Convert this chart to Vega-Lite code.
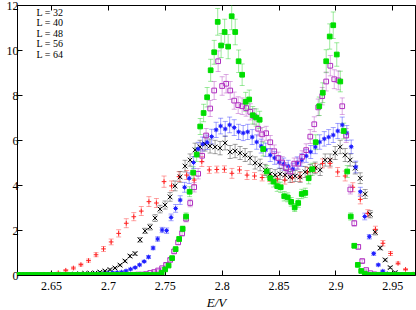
{
"$schema":"https://vega.github.io/schema/vega-lite/v6.json",
"width":398,"height":270,
"autosize":{"type":"none"},
"padding":{"left":17,"top":5,"right":1,"bottom":35},
"background":"white",
"config":{
 "view":{"stroke":"#000000","strokeWidth":1},
 "font":"Liberation Serif",
 "axis":{"grid":false,"domain":false,"tickColor":"#000000","tickWidth":1,"tickSize":-5,"labelFont":"Liberation Serif","labelFontSize":12,"labelColor":"#000000","titleFont":"Liberation Serif","titleFontSize":13,"titleFontStyle":"italic","titleFontWeight":"normal","titleColor":"#000000"}
},
"data":{"values":[
{"s":"32","E":2.6231,"v":0.02,"e":0.02},{"s":"32","E":2.6297,"v":0.02,"e":0.02},{"s":"32","E":2.6364,"v":0.03,"e":0.02},{"s":"32","E":2.6430,"v":0.03,"e":0.02},{"s":"32","E":2.6497,"v":0.04,"e":0.02},{"s":"32","E":2.6563,"v":0.10,"e":0.03},{"s":"32","E":2.6629,"v":0.21,"e":0.04},{"s":"32","E":2.6696,"v":0.31,"e":0.05},{"s":"32","E":2.6762,"v":0.46,"e":0.06},{"s":"32","E":2.6829,"v":0.64,"e":0.07},{"s":"32","E":2.6895,"v":0.90,"e":0.09},{"s":"32","E":2.6961,"v":1.16,"e":0.11},{"s":"32","E":2.7028,"v":1.47,"e":0.13},{"s":"32","E":2.7094,"v":1.85,"e":0.16},{"s":"32","E":2.7161,"v":2.30,"e":0.2},{"s":"32","E":2.7227,"v":2.59,"e":0.18},{"s":"32","E":2.7293,"v":2.84,"e":0.2},{"s":"32","E":2.7360,"v":3.26,"e":0.22},{"s":"32","E":2.7426,"v":3.20,"e":0.2},{"s":"32","E":2.7493,"v":4.15,"e":0.25},{"s":"32","E":2.7559,"v":3.96,"e":0.22},{"s":"32","E":2.7625,"v":4.37,"e":0.22},{"s":"32","E":2.7692,"v":4.44,"e":0.2},{"s":"32","E":2.7758,"v":4.22,"e":0.2},{"s":"32","E":2.7825,"v":5.04,"e":0.22},{"s":"32","E":2.7891,"v":4.67,"e":0.15},{"s":"32","E":2.7957,"v":4.69,"e":0.15},{"s":"32","E":2.8024,"v":4.70,"e":0.15},{"s":"32","E":2.8090,"v":4.52,"e":0.22},{"s":"32","E":2.8157,"v":4.67,"e":0.15},{"s":"32","E":2.8223,"v":4.44,"e":0.2},{"s":"32","E":2.8289,"v":4.40,"e":0.15},{"s":"32","E":2.8356,"v":4.33,"e":0.15},{"s":"32","E":2.8422,"v":4.31,"e":0.15},{"s":"32","E":2.8489,"v":4.27,"e":0.15},{"s":"32","E":2.8555,"v":4.22,"e":0.18},{"s":"32","E":2.8621,"v":4.31,"e":0.2},{"s":"32","E":2.8688,"v":4.36,"e":0.2},{"s":"32","E":2.8754,"v":4.58,"e":0.2},{"s":"32","E":2.8821,"v":4.76,"e":0.2},{"s":"32","E":2.8887,"v":4.96,"e":0.2},{"s":"32","E":2.8953,"v":4.96,"e":0.2},{"s":"32","E":2.9020,"v":4.58,"e":0.2},{"s":"32","E":2.9086,"v":4.40,"e":0.22},{"s":"32","E":2.9153,"v":3.90,"e":0.2},{"s":"32","E":2.9219,"v":3.36,"e":0.2},{"s":"32","E":2.9285,"v":2.74,"e":0.16},{"s":"32","E":2.9352,"v":2.03,"e":0.14},{"s":"32","E":2.9418,"v":1.41,"e":0.12},{"s":"32","E":2.9485,"v":0.96,"e":0.09},{"s":"32","E":2.9551,"v":0.52,"e":0.06},{"s":"32","E":2.9617,"v":0.25,"e":0.04},{"s":"32","E":2.9684,"v":0.04,"e":0.02},
{"s":"40","E":2.6226,"v":0,"e":0.02},{"s":"40","E":2.6270,"v":0,"e":0.02},{"s":"40","E":2.6314,"v":0,"e":0.02},{"s":"40","E":2.6358,"v":0,"e":0.02},{"s":"40","E":2.6402,"v":0,"e":0.02},{"s":"40","E":2.6446,"v":0,"e":0.02},{"s":"40","E":2.6490,"v":0,"e":0.02},{"s":"40","E":2.6534,"v":0.01,"e":0.02},{"s":"40","E":2.6578,"v":0.01,"e":0.02},{"s":"40","E":2.6622,"v":0.02,"e":0.02},{"s":"40","E":2.6666,"v":0.03,"e":0.02},{"s":"40","E":2.6710,"v":0.04,"e":0.02},{"s":"40","E":2.6754,"v":0.05,"e":0.02},{"s":"40","E":2.6798,"v":0.07,"e":0.02},{"s":"40","E":2.6842,"v":0.08,"e":0.02},{"s":"40","E":2.6886,"v":0.09,"e":0.02},{"s":"40","E":2.6930,"v":0.13,"e":0.03},{"s":"40","E":2.6974,"v":0.18,"e":0.03},{"s":"40","E":2.7018,"v":0.24,"e":0.03},{"s":"40","E":2.7062,"v":0.31,"e":0.04},{"s":"40","E":2.7106,"v":0.44,"e":0.04},{"s":"40","E":2.7150,"v":0.62,"e":0.05},{"s":"40","E":2.7194,"v":0.84,"e":0.06},{"s":"40","E":2.7238,"v":0.95,"e":0.07},{"s":"40","E":2.7282,"v":1.56,"e":0.1},{"s":"40","E":2.7326,"v":1.96,"e":0.12},{"s":"40","E":2.7370,"v":2.13,"e":0.13},{"s":"40","E":2.7414,"v":2.53,"e":0.15},{"s":"40","E":2.7458,"v":2.93,"e":0.17},{"s":"40","E":2.7502,"v":3.11,"e":0.18},{"s":"40","E":2.7546,"v":3.47,"e":0.19},{"s":"40","E":2.7590,"v":3.96,"e":0.22},{"s":"40","E":2.7634,"v":4.36,"e":0.24},{"s":"40","E":2.7678,"v":4.84,"e":0.26},{"s":"40","E":2.7722,"v":5.11,"e":0.27},{"s":"40","E":2.7766,"v":5.56,"e":0.3},{"s":"40","E":2.7810,"v":5.69,"e":0.3},{"s":"40","E":2.7854,"v":5.82,"e":0.31},{"s":"40","E":2.7898,"v":5.73,"e":0.31},{"s":"40","E":2.7942,"v":5.69,"e":0.3},{"s":"40","E":2.7986,"v":5.64,"e":0.3},{"s":"40","E":2.8030,"v":5.87,"e":0.31},{"s":"40","E":2.8074,"v":5.47,"e":0.29},{"s":"40","E":2.8118,"v":5.51,"e":0.3},{"s":"40","E":2.8162,"v":5.42,"e":0.29},{"s":"40","E":2.8206,"v":5.33,"e":0.29},{"s":"40","E":2.8250,"v":5.20,"e":0.28},{"s":"40","E":2.8294,"v":4.98,"e":0.27},{"s":"40","E":2.8338,"v":4.89,"e":0.26},{"s":"40","E":2.8382,"v":4.67,"e":0.25},{"s":"40","E":2.8426,"v":4.49,"e":0.24},{"s":"40","E":2.8470,"v":4.44,"e":0.24},{"s":"40","E":2.8514,"v":4.49,"e":0.24},{"s":"40","E":2.8558,"v":4.44,"e":0.24},{"s":"40","E":2.8602,"v":4.36,"e":0.24},{"s":"40","E":2.8646,"v":4.40,"e":0.24},{"s":"40","E":2.8690,"v":4.36,"e":0.24},{"s":"40","E":2.8734,"v":4.58,"e":0.25},{"s":"40","E":2.8778,"v":4.67,"e":0.25},{"s":"40","E":2.8822,"v":4.76,"e":0.26},{"s":"40","E":2.8866,"v":4.67,"e":0.25},{"s":"40","E":2.8910,"v":5.11,"e":0.27},{"s":"40","E":2.8954,"v":5.11,"e":0.27},{"s":"40","E":2.8998,"v":5.42,"e":0.29},{"s":"40","E":2.9042,"v":5.69,"e":0.3},{"s":"40","E":2.9086,"v":5.33,"e":0.29},{"s":"40","E":2.9130,"v":5.11,"e":0.27},{"s":"40","E":2.9174,"v":4.75,"e":0.26},{"s":"40","E":2.9218,"v":4.30,"e":0.24},{"s":"40","E":2.9262,"v":3.60,"e":0.2},{"s":"40","E":2.9306,"v":2.70,"e":0.16},{"s":"40","E":2.9350,"v":1.90,"e":0.12},{"s":"40","E":2.9394,"v":1.20,"e":0.08},{"s":"40","E":2.9438,"v":0.67,"e":0.05},{"s":"40","E":2.9482,"v":0.33,"e":0.04},{"s":"40","E":2.9526,"v":0.11,"e":0.03},{"s":"40","E":2.9570,"v":0.03,"e":0.02},{"s":"40","E":2.9614,"v":0.01,"e":0.02},{"s":"40","E":2.9658,"v":0,"e":0.02},
{"s":"48","E":2.6209,"v":0,"e":0.02},{"s":"48","E":2.6249,"v":0,"e":0.02},{"s":"48","E":2.6288,"v":0,"e":0.02},{"s":"48","E":2.6328,"v":0,"e":0.02},{"s":"48","E":2.6367,"v":0,"e":0.02},{"s":"48","E":2.6407,"v":0,"e":0.02},{"s":"48","E":2.6447,"v":0,"e":0.02},{"s":"48","E":2.6486,"v":0,"e":0.02},{"s":"48","E":2.6526,"v":0,"e":0.02},{"s":"48","E":2.6565,"v":0.01,"e":0.02},{"s":"48","E":2.6605,"v":0.01,"e":0.02},{"s":"48","E":2.6645,"v":0.01,"e":0.02},{"s":"48","E":2.6684,"v":0.01,"e":0.02},{"s":"48","E":2.6724,"v":0.02,"e":0.02},{"s":"48","E":2.6763,"v":0.02,"e":0.02},{"s":"48","E":2.6803,"v":0.03,"e":0.02},{"s":"48","E":2.6843,"v":0.03,"e":0.02},{"s":"48","E":2.6882,"v":0.04,"e":0.02},{"s":"48","E":2.6922,"v":0.05,"e":0.02},{"s":"48","E":2.6961,"v":0.06,"e":0.02},{"s":"48","E":2.7001,"v":0.08,"e":0.02},{"s":"48","E":2.7041,"v":0.10,"e":0.03},{"s":"48","E":2.7080,"v":0.11,"e":0.03},{"s":"48","E":2.7120,"v":0.13,"e":0.03},{"s":"48","E":2.7159,"v":0.18,"e":0.03},{"s":"48","E":2.7199,"v":0.26,"e":0.03},{"s":"48","E":2.7239,"v":0.33,"e":0.04},{"s":"48","E":2.7278,"v":0.45,"e":0.04},{"s":"48","E":2.7318,"v":0.60,"e":0.05},{"s":"48","E":2.7357,"v":0.80,"e":0.06},{"s":"48","E":2.7397,"v":1.20,"e":0.08},{"s":"48","E":2.7437,"v":1.60,"e":0.1},{"s":"48","E":2.7476,"v":2.00,"e":0.12},{"s":"48","E":2.7516,"v":1.97,"e":0.12},{"s":"48","E":2.7555,"v":2.56,"e":0.15},{"s":"48","E":2.7595,"v":2.96,"e":0.17},{"s":"48","E":2.7635,"v":3.33,"e":0.19},{"s":"48","E":2.7674,"v":3.90,"e":0.22},{"s":"48","E":2.7714,"v":4.30,"e":0.24},{"s":"48","E":2.7753,"v":5.00,"e":0.27},{"s":"48","E":2.7793,"v":5.60,"e":0.3},{"s":"48","E":2.7833,"v":5.82,"e":0.31},{"s":"48","E":2.7872,"v":5.90,"e":0.32},{"s":"48","E":2.7912,"v":6.15,"e":0.33},{"s":"48","E":2.7951,"v":6.45,"e":0.34},{"s":"48","E":2.7991,"v":6.62,"e":0.35},{"s":"48","E":2.8031,"v":6.49,"e":0.34},{"s":"48","E":2.8070,"v":6.67,"e":0.35},{"s":"48","E":2.8110,"v":6.55,"e":0.35},{"s":"48","E":2.8149,"v":6.36,"e":0.34},{"s":"48","E":2.8189,"v":6.31,"e":0.34},{"s":"48","E":2.8229,"v":6.36,"e":0.34},{"s":"48","E":2.8268,"v":6.13,"e":0.33},{"s":"48","E":2.8308,"v":5.91,"e":0.32},{"s":"48","E":2.8347,"v":5.73,"e":0.31},{"s":"48","E":2.8387,"v":5.56,"e":0.3},{"s":"48","E":2.8427,"v":5.33,"e":0.29},{"s":"48","E":2.8466,"v":5.20,"e":0.28},{"s":"48","E":2.8506,"v":5.02,"e":0.27},{"s":"48","E":2.8545,"v":4.93,"e":0.27},{"s":"48","E":2.8585,"v":4.84,"e":0.26},{"s":"48","E":2.8625,"v":4.71,"e":0.26},{"s":"48","E":2.8664,"v":4.98,"e":0.27},{"s":"48","E":2.8704,"v":5.11,"e":0.28},{"s":"48","E":2.8743,"v":5.29,"e":0.28},{"s":"48","E":2.8783,"v":5.47,"e":0.29},{"s":"48","E":2.8823,"v":5.69,"e":0.3},{"s":"48","E":2.8862,"v":5.91,"e":0.32},{"s":"48","E":2.8902,"v":6.05,"e":0.32},{"s":"48","E":2.8941,"v":6.13,"e":0.33},{"s":"48","E":2.8981,"v":6.22,"e":0.33},{"s":"48","E":2.9021,"v":6.40,"e":0.34},{"s":"48","E":2.9060,"v":6.67,"e":0.35},{"s":"48","E":2.9100,"v":6.31,"e":0.34},{"s":"48","E":2.9139,"v":5.70,"e":0.3},{"s":"48","E":2.9179,"v":4.80,"e":0.26},{"s":"48","E":2.9219,"v":3.70,"e":0.2},{"s":"48","E":2.9258,"v":2.60,"e":0.15},{"s":"48","E":2.9298,"v":1.70,"e":0.1},{"s":"48","E":2.9337,"v":0.95,"e":0.07},{"s":"48","E":2.9377,"v":0.45,"e":0.04},{"s":"48","E":2.9417,"v":0.17,"e":0.03},{"s":"48","E":2.9456,"v":0.06,"e":0.02},{"s":"48","E":2.9496,"v":0.02,"e":0.02},{"s":"48","E":2.9535,"v":0.01,"e":0.02},{"s":"48","E":2.9575,"v":0,"e":0.02},{"s":"48","E":2.9615,"v":0,"e":0.02},{"s":"48","E":2.9654,"v":0,"e":0.02},{"s":"48","E":2.9694,"v":0,"e":0.02},
{"s":"56","E":2.6209,"v":0,"e":0.02},{"s":"56","E":2.6244,"v":0,"e":0.02},{"s":"56","E":2.6279,"v":0,"e":0.02},{"s":"56","E":2.6315,"v":0,"e":0.02},{"s":"56","E":2.6350,"v":0,"e":0.02},{"s":"56","E":2.6385,"v":0,"e":0.02},{"s":"56","E":2.6420,"v":0,"e":0.02},{"s":"56","E":2.6455,"v":0,"e":0.02},{"s":"56","E":2.6491,"v":0,"e":0.02},{"s":"56","E":2.6526,"v":0,"e":0.02},{"s":"56","E":2.6561,"v":0,"e":0.02},{"s":"56","E":2.6596,"v":0,"e":0.02},{"s":"56","E":2.6631,"v":0,"e":0.02},{"s":"56","E":2.6667,"v":0,"e":0.02},{"s":"56","E":2.6702,"v":0,"e":0.02},{"s":"56","E":2.6737,"v":0,"e":0.02},{"s":"56","E":2.6772,"v":0,"e":0.02},{"s":"56","E":2.6807,"v":0,"e":0.02},{"s":"56","E":2.6843,"v":0,"e":0.02},{"s":"56","E":2.6878,"v":0,"e":0.02},{"s":"56","E":2.6913,"v":0,"e":0.02},{"s":"56","E":2.6948,"v":0,"e":0.02},{"s":"56","E":2.6983,"v":0,"e":0.02},{"s":"56","E":2.7019,"v":0,"e":0.02},{"s":"56","E":2.7054,"v":0,"e":0.02},{"s":"56","E":2.7089,"v":0,"e":0.02},{"s":"56","E":2.7124,"v":0,"e":0.02},{"s":"56","E":2.7159,"v":0.01,"e":0.02},{"s":"56","E":2.7195,"v":0.01,"e":0.02},{"s":"56","E":2.7230,"v":0.01,"e":0.02},{"s":"56","E":2.7265,"v":0.02,"e":0.02},{"s":"56","E":2.7300,"v":0.02,"e":0.02},{"s":"56","E":2.7335,"v":0.04,"e":0.03},{"s":"56","E":2.7371,"v":0.09,"e":0.03},{"s":"56","E":2.7406,"v":0.13,"e":0.04},{"s":"56","E":2.7441,"v":0.20,"e":0.04},{"s":"56","E":2.7476,"v":0.30,"e":0.04},{"s":"56","E":2.7511,"v":0.45,"e":0.05},{"s":"56","E":2.7547,"v":0.67,"e":0.06},{"s":"56","E":2.7582,"v":1.05,"e":0.08},{"s":"56","E":2.7617,"v":1.45,"e":0.1},{"s":"56","E":2.7652,"v":1.85,"e":0.11},{"s":"56","E":2.7687,"v":2.50,"e":0.14},{"s":"56","E":2.7723,"v":3.20,"e":0.17},{"s":"56","E":2.7758,"v":3.90,"e":0.21},{"s":"56","E":2.7793,"v":4.50,"e":0.23},{"s":"56","E":2.7828,"v":5.30,"e":0.27},{"s":"56","E":2.7863,"v":6.20,"e":0.31},{"s":"56","E":2.7899,"v":7.40,"e":0.36},{"s":"56","E":2.7934,"v":8.20,"e":0.4},{"s":"56","E":2.7969,"v":9.50,"e":0.46},{"s":"56","E":2.8004,"v":8.40,"e":0.41},{"s":"56","E":2.8039,"v":8.50,"e":0.41},{"s":"56","E":2.8075,"v":8.20,"e":0.4},{"s":"56","E":2.8110,"v":7.75,"e":0.38},{"s":"56","E":2.8145,"v":7.55,"e":0.37},{"s":"56","E":2.8180,"v":7.50,"e":0.37},{"s":"56","E":2.8215,"v":7.42,"e":0.36},{"s":"56","E":2.8251,"v":7.25,"e":0.36},{"s":"56","E":2.8286,"v":7.05,"e":0.35},{"s":"56","E":2.8321,"v":6.50,"e":0.32},{"s":"56","E":2.8356,"v":6.25,"e":0.31},{"s":"56","E":2.8391,"v":6.30,"e":0.31},{"s":"56","E":2.8427,"v":5.90,"e":0.3},{"s":"56","E":2.8462,"v":5.50,"e":0.28},{"s":"56","E":2.8497,"v":5.20,"e":0.26},{"s":"56","E":2.8532,"v":5.00,"e":0.26},{"s":"56","E":2.8567,"v":4.75,"e":0.24},{"s":"56","E":2.8603,"v":4.60,"e":0.24},{"s":"56","E":2.8638,"v":4.95,"e":0.25},{"s":"56","E":2.8673,"v":4.95,"e":0.25},{"s":"56","E":2.8708,"v":5.25,"e":0.27},{"s":"56","E":2.8743,"v":5.55,"e":0.28},{"s":"56","E":2.8779,"v":6.15,"e":0.31},{"s":"56","E":2.8814,"v":6.70,"e":0.33},{"s":"56","E":2.8849,"v":7.45,"e":0.37},{"s":"56","E":2.8884,"v":7.95,"e":0.39},{"s":"56","E":2.8919,"v":8.60,"e":0.42},{"s":"56","E":2.8955,"v":9.30,"e":0.45},{"s":"56","E":2.8990,"v":8.70,"e":0.42},{"s":"56","E":2.9025,"v":8.65,"e":0.42},{"s":"56","E":2.9060,"v":7.50,"e":0.37},{"s":"56","E":2.9095,"v":6.20,"e":0.31},{"s":"56","E":2.9131,"v":3.80,"e":0.2},{"s":"56","E":2.9166,"v":2.30,"e":0.13},{"s":"56","E":2.9201,"v":1.25,"e":0.09},{"s":"56","E":2.9236,"v":0.62,"e":0.06},{"s":"56","E":2.9271,"v":0.22,"e":0.04},{"s":"56","E":2.9307,"v":0.08,"e":0.03},{"s":"56","E":2.9342,"v":0.03,"e":0.02},{"s":"56","E":2.9377,"v":0.01,"e":0.02},{"s":"56","E":2.9412,"v":0,"e":0.02},{"s":"56","E":2.9447,"v":0,"e":0.02},{"s":"56","E":2.9483,"v":0,"e":0.02},{"s":"56","E":2.9518,"v":0,"e":0.02},{"s":"56","E":2.9553,"v":0,"e":0.02},{"s":"56","E":2.9588,"v":0,"e":0.02},{"s":"56","E":2.9623,"v":0,"e":0.02},{"s":"56","E":2.9659,"v":0,"e":0.02},{"s":"56","E":2.9694,"v":0,"e":0.02},
{"s":"64","E":2.6209,"v":0,"e":0.02},{"s":"64","E":2.6240,"v":0,"e":0.02},{"s":"64","E":2.6271,"v":0,"e":0.02},{"s":"64","E":2.6301,"v":0,"e":0.02},{"s":"64","E":2.6332,"v":0,"e":0.02},{"s":"64","E":2.6363,"v":0,"e":0.02},{"s":"64","E":2.6394,"v":0,"e":0.02},{"s":"64","E":2.6425,"v":0,"e":0.02},{"s":"64","E":2.6455,"v":0,"e":0.02},{"s":"64","E":2.6486,"v":0,"e":0.02},{"s":"64","E":2.6517,"v":0,"e":0.02},{"s":"64","E":2.6548,"v":0,"e":0.02},{"s":"64","E":2.6579,"v":0,"e":0.02},{"s":"64","E":2.6609,"v":0,"e":0.02},{"s":"64","E":2.6640,"v":0,"e":0.02},{"s":"64","E":2.6671,"v":0,"e":0.02},{"s":"64","E":2.6702,"v":0,"e":0.02},{"s":"64","E":2.6733,"v":0,"e":0.02},{"s":"64","E":2.6763,"v":0,"e":0.02},{"s":"64","E":2.6794,"v":0,"e":0.02},{"s":"64","E":2.6825,"v":0,"e":0.02},{"s":"64","E":2.6856,"v":0,"e":0.02},{"s":"64","E":2.6887,"v":0,"e":0.02},{"s":"64","E":2.6917,"v":0,"e":0.02},{"s":"64","E":2.6948,"v":0,"e":0.02},{"s":"64","E":2.6979,"v":0,"e":0.02},{"s":"64","E":2.7010,"v":0,"e":0.02},{"s":"64","E":2.7041,"v":0,"e":0.02},{"s":"64","E":2.7071,"v":0,"e":0.02},{"s":"64","E":2.7102,"v":0,"e":0.02},{"s":"64","E":2.7133,"v":0,"e":0.02},{"s":"64","E":2.7164,"v":0,"e":0.02},{"s":"64","E":2.7195,"v":0,"e":0.02},{"s":"64","E":2.7225,"v":0,"e":0.02},{"s":"64","E":2.7256,"v":0,"e":0.02},{"s":"64","E":2.7287,"v":0,"e":0.02},{"s":"64","E":2.7318,"v":0,"e":0.02},{"s":"64","E":2.7349,"v":0,"e":0.02},{"s":"64","E":2.7379,"v":0,"e":0.02},{"s":"64","E":2.7410,"v":0,"e":0.02},{"s":"64","E":2.7441,"v":0,"e":0.02},{"s":"64","E":2.7472,"v":0.10,"e":0.04},{"s":"64","E":2.7503,"v":0.25,"e":0.04},{"s":"64","E":2.7533,"v":0.42,"e":0.05},{"s":"64","E":2.7564,"v":0.75,"e":0.07},{"s":"64","E":2.7595,"v":1.15,"e":0.09},{"s":"64","E":2.7626,"v":1.60,"e":0.11},{"s":"64","E":2.7657,"v":2.05,"e":0.13},{"s":"64","E":2.7687,"v":2.60,"e":0.16},{"s":"64","E":2.7718,"v":3.70,"e":0.22},{"s":"64","E":2.7749,"v":4.55,"e":0.26},{"s":"64","E":2.7780,"v":5.35,"e":0.3},{"s":"64","E":2.7811,"v":6.60,"e":0.36},{"s":"64","E":2.7841,"v":7.20,"e":0.39},{"s":"64","E":2.7872,"v":7.90,"e":0.43},{"s":"64","E":2.7903,"v":9.10,"e":0.49},{"s":"64","E":2.7934,"v":9.90,"e":0.53},{"s":"64","E":2.7965,"v":11.25,"e":0.59},{"s":"64","E":2.7995,"v":10.20,"e":0.54},{"s":"64","E":2.8026,"v":10.80,"e":0.57},{"s":"64","E":2.8057,"v":10.15,"e":0.54},{"s":"64","E":2.8088,"v":11.50,"e":0.6},{"s":"64","E":2.8119,"v":10.80,"e":0.57},{"s":"64","E":2.8149,"v":9.50,"e":0.5},{"s":"64","E":2.8180,"v":8.90,"e":0.48},{"s":"64","E":2.8211,"v":7.70,"e":0.42},{"s":"64","E":2.8242,"v":7.80,"e":0.42},{"s":"64","E":2.8273,"v":7.10,"e":0.39},{"s":"64","E":2.8303,"v":7.00,"e":0.38},{"s":"64","E":2.8334,"v":6.90,"e":0.38},{"s":"64","E":2.8365,"v":5.60,"e":0.31},{"s":"64","E":2.8396,"v":4.60,"e":0.26},{"s":"64","E":2.8427,"v":4.30,"e":0.25},{"s":"64","E":2.8457,"v":4.15,"e":0.24},{"s":"64","E":2.8488,"v":3.95,"e":0.23},{"s":"64","E":2.8519,"v":3.90,"e":0.23},{"s":"64","E":2.8550,"v":3.50,"e":0.21},{"s":"64","E":2.8581,"v":3.45,"e":0.2},{"s":"64","E":2.8611,"v":3.25,"e":0.19},{"s":"64","E":2.8642,"v":3.00,"e":0.18},{"s":"64","E":2.8673,"v":3.20,"e":0.19},{"s":"64","E":2.8704,"v":3.60,"e":0.21},{"s":"64","E":2.8735,"v":3.65,"e":0.21},{"s":"64","E":2.8765,"v":4.30,"e":0.25},{"s":"64","E":2.8796,"v":4.70,"e":0.27},{"s":"64","E":2.8827,"v":5.90,"e":0.33},{"s":"64","E":2.8858,"v":7.50,"e":0.41},{"s":"64","E":2.8889,"v":8.10,"e":0.44},{"s":"64","E":2.8919,"v":9.50,"e":0.51},{"s":"64","E":2.8950,"v":10.60,"e":0.56},{"s":"64","E":2.8981,"v":11.10,"e":0.59},{"s":"64","E":2.9012,"v":9.80,"e":0.52},{"s":"64","E":2.9043,"v":8.60,"e":0.46},{"s":"64","E":2.9073,"v":6.40,"e":0.35},{"s":"64","E":2.9104,"v":4.60,"e":0.26},{"s":"64","E":2.9135,"v":2.60,"e":0.16},{"s":"64","E":2.9166,"v":1.30,"e":0.1},{"s":"64","E":2.9197,"v":0.45,"e":0.05},{"s":"64","E":2.9227,"v":0.18,"e":0.04},{"s":"64","E":2.9258,"v":0.06,"e":0.03},{"s":"64","E":2.9289,"v":0,"e":0.02},{"s":"64","E":2.9320,"v":0,"e":0.02},{"s":"64","E":2.9351,"v":0,"e":0.02},{"s":"64","E":2.9381,"v":0,"e":0.02},{"s":"64","E":2.9412,"v":0,"e":0.02},{"s":"64","E":2.9443,"v":0,"e":0.02},{"s":"64","E":2.9474,"v":0,"e":0.02},{"s":"64","E":2.9505,"v":0,"e":0.02},{"s":"64","E":2.9535,"v":0,"e":0.02},{"s":"64","E":2.9566,"v":0,"e":0.02},{"s":"64","E":2.9597,"v":0,"e":0.02},{"s":"64","E":2.9628,"v":0,"e":0.02},{"s":"64","E":2.9659,"v":0,"e":0.02},{"s":"64","E":2.9689,"v":0,"e":0.02}
]},
"layer":[
 {"mark":{"type":"errorbar","ticks":{"size":5},"thickness":0.8,"opacity":0.55,"clip":true},
  "encoding":{
   "x":{"field":"E","type":"quantitative","scale":{"domain":[2.62,2.97],"nice":false,"zero":false},"axis":{"orient":"bottom","values":[2.65,2.7,2.75,2.8,2.85,2.9,2.95],"format":"~g","title":"E/V","labelPadding":10,"titlePadding":5}},
   "y":{"field":"v","type":"quantitative","scale":{"domain":[0,12],"nice":false},"axis":{"orient":"left","values":[0,2,4,6,8,10,12],"title":null,"labelPadding":4}},
   "yError":{"field":"e"},
   "color":{"field":"s","type":"nominal","scale":{"domain":["64","56","48","40","32"],"range":["#20d020","#b040c0","#3030ff","#303030","#ff3030"]},"legend":null}
  }},
 {"mark":{"type":"point","clip":true,"strokeWidth":1,"opacity":1},
  "encoding":{
   "x":{"field":"E","type":"quantitative","scale":{"domain":[2.62,2.97],"nice":false,"zero":false},"axis":{"orient":"top","values":[2.65,2.7,2.75,2.8,2.85,2.9,2.95],"labels":false,"title":null}},
   "y":{"field":"v","type":"quantitative","scale":{"domain":[0,12],"nice":false},"axis":{"orient":"right","values":[0,2,4,6,8,10,12],"labels":false,"title":null}},
   "stroke":{"field":"s","type":"nominal","scale":{"domain":["32","40","48","56","64"],"range":["#ff2020","#000000","#2020ff","#b030c0","#00dd00"]},
     "legend":{"orient":"none","legendX":0,"legendY":3,"padding":0,"title":null,"labelFont":"Liberation Serif","labelFontSize":10,"labelColor":"#000000","labelAlign":"right","labelOffset":-34,"rowPadding":0.4,"clipHeight":10,
      "symbolType":"M-1,0H1M-1,-0.17V0.17M1,-0.17V0.17M-0.12,-0.12H0.12V0.12H-0.12Z","symbolSize":841,"symbolStrokeWidth":0.9,"symbolOffset":50,"symbolFillColor":"transparent","symbolOpacity":0.85,
      "labelExpr":"'L = ' + datum.label"}},
   "fill":{"field":"s","type":"nominal","scale":{"domain":["40","32","48","56","64"],"range":["transparent","transparent","#2020ff","transparent","#00dd00"]},"legend":null},
   "shape":{"field":"s","type":"nominal","scale":{"domain":["32","48","40","56","64"],"range":["M-1,0H1M0,-1V1","M-1,0H1M0,-1V1M-0.7,-0.7L0.7,0.7M-0.7,0.7L0.7,-0.7M-0.4,-0.4H0.4V0.4H-0.4Z","M-1,-1L1,1M-1,1L1,-1","square","square"]},"legend":null},
   "size":{"field":"s","type":"nominal","scale":{"domain":["32","40","56","48","64"],"range":[22,22,34,18,24]},"legend":null}
  }}
],
"resolve":{"axis":{"x":"independent","y":"independent"}}
}
